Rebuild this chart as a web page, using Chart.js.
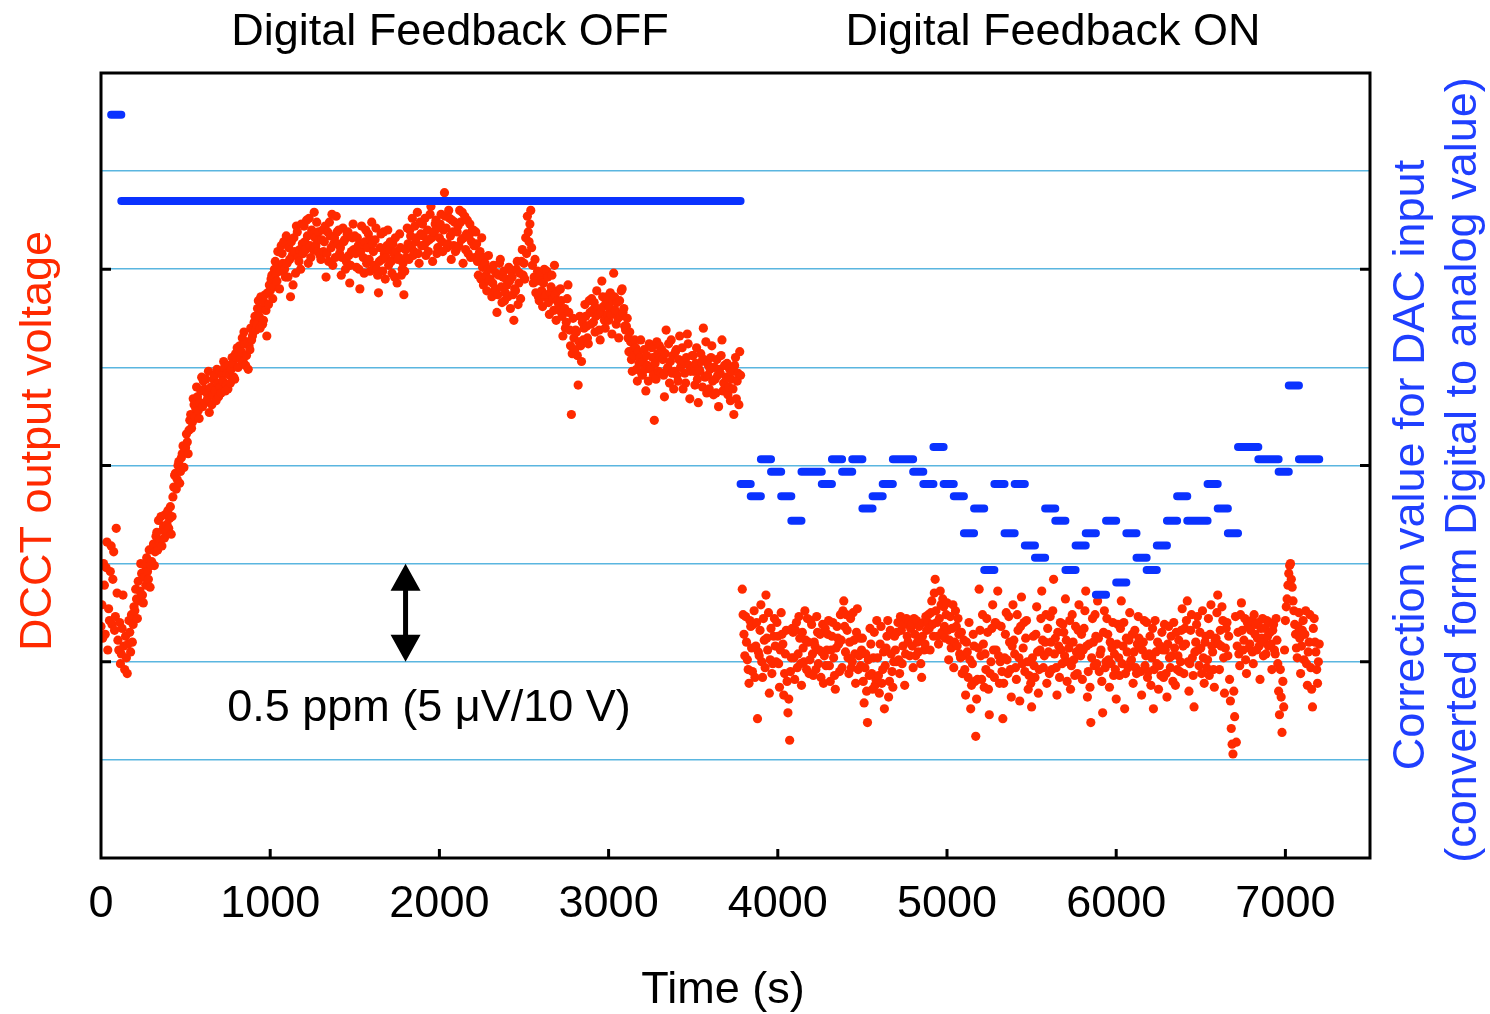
<!DOCTYPE html>
<html>
<head>
<meta charset="utf-8">
<script src="https://cdn.jsdelivr.net/npm/chart.js@4.4.1/dist/chart.umd.min.js"></script>
<style>
  body { margin: 0; background: #fff; }
</style>
</head>
<body>
<canvas id="grafico" width="1490" height="1014"></canvas>
<script>
// DCCT output voltage (µV offset, 5 µV = 0.5 ppm per division), sampled every 5 s
const sampleStep = 5;

// feedback OFF: t = 0 ... 3780 s
const offStart = 0;
const dcctOff = [
  11.8, 12.9, 11.2, 15.0, 13.9, 11.4, 14.8, 16.1, 10.6, 12.7, 12.1, 14.6, 15.9, 11.9, 14.2, 15.6, 11.6, 12.3, 16.8, 13.5,
  11.1, 10.6, 12.0, 9.9, 10.4, 11.7, 13.4, 10.8, 9.6, 11.3, 10.2, 9.4, 10.9, 12.1, 11.5, 10.5, 12.4, 11.0, 11.9, 12.8,
  12.6, 13.7, 13.2, 12.2, 14.1, 13.1, 13.6, 15.0, 14.5, 13.4, 13.0, 14.3, 14.9, 13.9, 15.3, 14.6, 14.2, 15.7, 13.8, 14.9,
  15.1, 15.8, 16.0, 14.9, 15.6, 16.4, 16.6, 15.7, 17.2, 16.1, 16.2, 17.4, 15.9, 16.7, 16.9, 16.3, 17.5, 16.6, 17.0, 17.7,
  16.8, 17.3, 17.9, 16.5, 17.4, 18.4, 18.9, 19.5, 19.6, 18.8, 19.3, 20.0, 20.2, 19.1, 19.7, 20.4, 20.6, 21.0, 19.9, 20.7,
  20.9, 21.6, 21.2, 20.6, 21.8, 22.3, 22.6, 21.9, 22.2, 23.4, 23.1, 22.5, 22.9, 24.0, 23.5, 22.8, 22.4, 23.2, 23.8, 24.5,
  23.0, 24.3, 23.9, 23.2, 24.4, 23.7, 23.4, 24.8, 22.7, 23.9, 24.0, 23.1, 23.6, 24.4, 24.6, 23.8, 23.3, 24.9, 24.2, 23.5,
  24.8, 24.0, 23.7, 24.6, 24.3, 25.3, 25.0, 23.8, 24.1, 24.7, 23.9, 25.1, 24.6, 24.2, 24.9, 25.5, 25.2, 24.5, 24.4, 25.7,
  25.5, 26.0, 25.0, 25.7, 26.1, 25.4, 25.8, 26.5, 25.3, 26.8, 26.2, 25.1, 25.6, 26.3, 24.9, 26.1, 25.9, 27.0, 26.4, 26.6,
  26.8, 27.3, 27.6, 26.9, 27.2, 28.0, 28.4, 27.6, 27.0, 28.6, 28.0, 27.2, 27.4, 28.3, 28.7, 27.9, 26.6, 28.8, 28.2, 29.2,
  28.9, 29.5, 29.7, 28.5, 29.1, 30.0, 30.4, 29.8, 29.4, 30.9, 30.2, 29.0, 29.9, 31.2, 30.8, 30.3, 31.4, 30.0, 29.6, 31.7,
  30.3, 29.6, 31.1, 30.5, 28.6, 31.4, 30.7, 29.2, 31.6, 30.9, 29.8, 32.2, 31.9, 30.6, 30.4, 31.0, 30.0, 32.3, 31.3, 30.8,
  32.2, 31.4, 31.0, 32.5, 31.7, 30.3, 32.6, 31.2, 30.6, 32.0, 31.8, 31.0, 32.9, 31.6, 31.2, 32.4, 30.9, 31.9, 31.5, 30.7,
  30.5, 31.5, 32.0, 30.9, 31.4, 32.2, 29.6, 30.8, 31.9, 30.4, 32.4, 31.7, 31.1, 32.8, 30.2, 31.3, 31.6, 30.6, 32.7, 31.9,
  31.3, 32.0, 30.8, 31.1, 29.7, 30.6, 32.1, 31.4, 31.5, 30.0, 30.4, 31.8, 31.9, 30.7, 29.3, 30.2, 30.9, 31.6, 32.3, 31.0,
  31.7, 30.8, 30.1, 31.6, 31.2, 30.0, 29.0, 30.9, 32.2, 31.3, 30.6, 29.8, 31.4, 32.0, 30.3, 31.1, 31.8, 30.5, 29.9, 31.5,
  32.4, 31.3, 30.9, 30.2, 31.5, 32.1, 30.0, 29.7, 28.8, 30.4, 31.1, 31.8, 30.5, 29.9, 31.9, 30.8, 29.5, 30.6, 31.2, 32.0,
  30.2, 31.0, 31.4, 30.4, 29.8, 31.3, 30.8, 29.6, 31.6, 30.9, 29.3, 30.5, 30.6, 31.8, 31.1, 29.7, 30.0, 30.3, 28.7, 29.9,
  31.0, 30.6, 32.1, 31.3, 30.5, 32.0, 31.7, 31.1, 32.6, 30.7, 30.9, 32.2, 31.4, 31.6, 32.9, 30.8, 30.3, 32.4, 31.8, 31.2,
  32.3, 31.7, 31.2, 32.6, 30.7, 31.4, 32.0, 30.9, 31.5, 32.8, 33.2, 31.6, 30.4, 31.9, 31.9, 32.3, 32.5, 30.8, 31.1, 32.1,
  31.6, 32.3, 32.8, 31.4, 30.9, 32.0, 33.9, 32.7, 32.1, 31.1, 31.3, 33.0, 32.6, 31.7, 30.5, 32.5, 31.9, 31.2, 32.4, 30.9,
  31.0, 31.9, 32.2, 31.2, 33.0, 32.4, 31.5, 32.9, 30.3, 31.6, 32.7, 31.0, 31.8, 32.5, 30.8, 31.7, 32.3, 30.6, 31.4, 32.0,
  32.0, 31.2, 30.6, 31.9, 31.3, 30.4, 29.7, 30.8, 30.9, 29.5, 31.6, 30.1, 29.2, 30.6, 30.3, 29.7, 28.9, 30.0, 30.7, 29.4,
  29.5, 30.0, 28.6, 29.3, 30.2, 28.9, 29.0, 29.8, 27.8, 28.7, 29.7, 30.3, 30.5, 29.1, 28.3, 29.6, 29.9, 28.4, 28.8, 29.5,
  29.2, 28.6, 30.1, 29.4, 28.0, 29.9, 29.6, 28.7, 27.4, 29.0, 28.9, 30.0, 30.4, 28.2, 29.3, 29.8, 28.5, 30.4, 31.0, 29.7,
  30.3, 29.5, 31.6, 30.8, 32.7, 31.9, 31.4, 32.3, 33.0, 31.1, 30.2, 29.3, 29.6, 30.5, 28.8, 29.4, 29.9, 28.6, 28.4, 29.7,
  29.4, 28.9, 28.1, 29.3, 30.0, 28.6, 28.7, 29.9, 29.6, 28.3, 27.7, 28.8, 29.1, 29.7, 28.5, 27.9, 30.2, 28.7, 27.4, 28.4,
  28.9, 28.2, 27.9, 29.0, 28.4, 27.6, 26.6, 27.9, 28.0, 27.0, 27.3, 28.5, 29.2, 27.8, 26.9, 26.1, 22.6, 25.7, 27.5, 26.5,
  25.9, 26.9, 26.8, 25.6, 24.1, 26.3, 27.6, 26.1, 25.3, 27.3, 26.4, 27.0, 28.2, 27.6, 27.1, 26.5, 26.2, 28.4, 27.8, 27.2,
  28.5, 27.9, 27.3, 28.3, 26.8, 27.6, 28.9, 28.0, 27.7, 26.9, 26.4, 27.8, 29.4, 28.6, 28.1, 27.4, 27.0, 28.3, 28.6, 27.7,
  27.4, 28.1, 28.8, 27.7, 26.7, 28.4, 29.8, 28.6, 27.9, 27.2, 28.3, 27.5, 26.5, 28.4, 27.6, 28.9, 29.0, 27.8, 28.0, 27.1,
  26.9, 27.1, 27.5, 26.5, 25.8, 26.8, 26.3, 25.4, 24.8, 25.9, 25.6, 26.4, 26.0, 24.9, 24.3, 25.8, 25.2, 25.5, 26.4, 24.7,
  24.6, 25.3, 25.9, 24.9, 23.8, 25.6, 25.1, 24.3, 26.2, 25.0, 24.9, 26.0, 25.5, 24.6, 22.3, 25.2, 24.4, 26.3, 25.7, 24.8,
  26.1, 25.5, 24.7, 25.9, 25.4, 24.6, 23.5, 25.7, 26.9, 24.9, 25.0, 26.2, 24.2, 25.3, 26.4, 24.7, 25.6, 23.9, 24.8, 25.8,
  25.9, 24.6, 24.3, 25.4, 26.6, 25.0, 25.2, 26.0, 23.9, 25.3, 24.7, 24.2, 25.5, 26.7, 26.2, 25.1, 23.4, 24.8, 24.9, 25.6,
  25.6, 24.8, 24.1, 25.2, 26.0, 24.4, 23.2, 24.9, 24.8, 25.7, 25.3, 24.0, 27.0, 25.4, 24.5, 26.3, 23.7, 24.6, 25.1, 23.9,
  24.9, 25.5, 26.1, 24.3, 23.6, 25.0, 24.4, 23.7, 25.4, 24.6, 23.0, 24.9, 24.7, 25.6, 26.4, 23.8, 24.2, 25.1, 23.8, 24.5,
  25.2, 23.6, 24.0, 24.9, 23.3, 24.4, 24.8, 23.9, 22.6, 25.1, 25.5, 23.4, 24.3, 24.7, 23.1, 25.8, 24.6
];

// feedback ON: t = 3790 ... 7200 s
const onStart = 3790;
const dcctOn = [
  13.7, 12.4, 11.4, 10.3, 12.3, 11.0, 10.1, 9.6, 8.9, 12.1, 11.8, 10.7, 9.5, 11.9, 12.6, 9.2, 10.8, 12.0, 7.1, 10.5,
  10.3, 11.6, 12.9, 10.0, 9.2, 12.2, 11.1, 9.7, 13.4, 11.2, 10.6, 12.5, 8.4, 10.1, 11.7, 9.4, 9.9, 11.3, 12.2, 10.8,
  10.0, 12.0, 11.3, 9.9, 8.7, 10.6, 12.5, 11.4, 10.9, 8.3, 9.4, 10.4, 11.6, 9.0, 7.4, 8.1, 6.0, 9.5, 10.2, 11.7,
  11.5, 10.2, 9.1, 11.6, 12.0, 9.7, 10.4, 12.3, 11.2, 9.9, 8.8, 11.5, 10.7, 10.0, 12.6, 11.1, 9.6, 12.2, 11.0, 9.4,
  10.1, 12.1, 11.9, 10.4, 9.3, 11.0, 10.8, 9.6, 12.3, 11.5, 9.9, 10.6, 11.4, 9.2, 10.5, 11.9, 8.9, 10.3, 11.7, 9.8,
  10.6, 11.4, 12.1, 9.8, 9.0, 10.6, 11.3, 12.0, 10.2, 9.3, 8.6, 10.7, 11.8, 11.2, 10.9, 9.5, 12.4, 11.1, 9.7, 12.6,
  13.1, 11.8, 10.5, 12.4, 11.6, 10.2, 9.4, 11.0, 12.2, 9.7, 10.0, 12.5, 11.1, 10.4, 8.9, 11.5, 12.7, 9.6, 10.3, 11.2,
  9.8, 10.6, 11.2, 9.0, 7.9, 9.7, 10.4, 8.5, 6.9, 10.1, 9.3, 11.7, 10.9, 9.4, 8.6, 10.2, 11.5, 8.8, 9.1, 12.1,
  10.2, 9.3, 8.4, 10.9, 11.8, 8.9, 9.6, 10.5, 7.6, 9.8, 10.7, 11.3, 12.1, 8.2, 9.0, 11.6, 10.4, 9.5, 8.7, 10.0,
  11.3, 10.6, 10.0, 11.5, 12.0, 10.1, 9.4, 12.3, 11.6, 9.9, 10.8, 11.9, 8.8, 10.4, 12.2, 11.3, 11.0, 12.0, 10.3, 11.7,
  11.9, 10.8, 9.7, 12.2, 11.4, 10.3, 12.1, 11.0, 10.5, 11.8, 11.1, 9.9, 9.2, 11.3, 12.0, 10.6, 10.9, 12.3, 11.6, 12.0,
  12.4, 11.7, 10.6, 12.5, 13.1, 11.9, 11.3, 13.5, 14.2, 12.6, 12.0, 11.3, 10.9, 12.2, 13.6, 12.9, 11.5, 13.2, 12.8, 11.8,
  11.2, 12.4, 13.0, 11.6, 10.1, 11.1, 12.3, 10.7, 11.7, 12.9, 9.7, 11.0, 12.6, 11.8, 10.8, 12.2, 11.4, 10.4, 10.2, 11.5,
  9.4, 10.3, 11.1, 9.6, 8.3, 11.0, 10.5, 9.2, 12.0, 10.1, 7.6, 8.8, 9.9, 11.4, 10.8, 9.0, 6.2, 8.1, 9.1, 10.7,
  13.7, 11.6, 10.3, 9.1, 12.4, 10.9, 8.7, 10.4, 9.6, 12.2, 11.5, 8.6, 7.3, 9.4, 10.0, 11.7, 12.9, 10.6, 9.2, 12.0,
  10.6, 11.9, 13.6, 10.3, 8.9, 10.0, 11.8, 9.5, 7.1, 8.9, 10.2, 11.4, 12.5, 10.1, 9.4, 12.3, 11.0, 9.6, 8.2, 10.8,
  12.9, 11.1, 10.4, 9.7, 9.1, 12.4, 11.6, 10.2, 8.0, 11.8, 13.3, 9.9, 10.7, 12.0, 9.5, 11.2, 12.1, 10.0, 8.6, 9.3,
  10.0, 8.9, 7.7, 10.2, 11.3, 9.8, 9.2, 11.4, 12.8, 10.5, 8.4, 9.6, 10.6, 12.2, 13.6, 11.1, 9.7, 10.3, 11.0, 12.4,
  8.9, 11.7, 10.5, 9.4, 12.3, 11.0, 9.6, 12.6, 14.2, 10.4, 11.2, 9.7, 8.3, 11.5, 10.8, 9.2, 12.0, 10.6, 9.9, 11.9,
  11.5, 10.3, 13.2, 11.1, 9.0, 10.0, 10.7, 12.1, 8.6, 9.8, 12.4, 11.0, 10.1, 9.3, 11.8, 10.5, 9.4, 11.6, 12.9, 10.7,
  10.3, 11.4, 9.1, 10.6, 11.7, 12.6, 13.6, 10.8, 8.2, 9.5, 10.9, 8.7, 6.9, 10.2, 12.2, 11.0, 9.8, 12.4, 11.3, 9.9,
  13.1, 11.2, 9.5, 10.4, 10.6, 9.0, 7.4, 11.5, 12.6, 9.7, 10.0, 12.2, 11.4, 10.1, 8.7, 11.0, 9.9, 10.7, 12.0, 9.3,
  10.4, 9.6, 8.1, 10.9, 11.9, 10.2, 9.3, 11.7, 13.1, 9.9, 10.8, 12.0, 7.6, 9.4, 11.2, 10.5, 9.7, 11.1, 12.5, 10.0,
  10.1, 11.4, 8.9, 10.5, 11.6, 9.7, 9.4, 10.9, 12.3, 11.2, 10.7, 9.5, 8.3, 10.6, 11.0, 12.1, 9.8, 10.3, 12.0, 9.2,
  9.5, 10.4, 11.3, 8.8, 10.2, 11.7, 7.6, 9.6, 12.1, 10.5, 9.9, 11.0, 8.6, 9.8, 10.8, 9.3, 11.5, 10.6, 9.2, 11.9,
  10.6, 9.4, 8.2, 10.9, 11.8, 10.2, 9.7, 11.3, 10.3, 9.0, 12.0, 10.7, 8.8, 11.5, 9.6, 10.3, 11.1, 9.5, 10.0, 11.6,
  12.7, 10.8, 9.4, 11.7, 10.9, 12.1, 13.1, 10.0, 8.5, 9.9, 11.6, 12.4, 10.2, 9.3, 7.7, 10.5, 11.0, 11.9, 12.3, 10.6,
  9.8, 11.5, 10.7, 9.4, 12.6, 10.2, 8.9, 11.0, 11.3, 9.7, 10.1, 12.2, 9.3, 11.4, 12.9, 10.8, 10.5, 9.6, 8.7, 11.1,
  11.2, 12.5, 13.4, 10.9, 9.6, 11.6, 10.8, 12.8, 12.1, 10.2, 8.4, 10.7, 11.7, 12.0, 10.3, 11.3, 9.1, 8.0, 6.6, 5.8,
  5.3, 8.5, 7.2, 12.3, 5.9, 10.8, 11.5, 10.4, 9.8, 12.4, 13.0, 11.6, 10.6, 11.1, 12.2, 10.1, 9.4, 12.0, 11.8, 10.7,
  10.9, 11.6, 12.1, 10.5, 9.9, 12.4, 11.4, 11.9, 10.6, 11.2, 12.0, 10.8, 9.1, 11.7, 11.2, 12.2, 10.3, 11.0, 11.7, 10.4,
  12.1, 11.3, 10.8, 12.0, 11.5, 10.9, 9.6, 11.6, 11.9, 10.6, 10.4, 12.2, 11.1, 9.9, 8.5, 7.3, 9.6, 8.2, 6.4, 9.0,
  7.7, 10.6, 12.1, 12.8, 13.2, 13.9, 14.5, 14.9, 15.0, 14.2, 13.8, 13.1, 12.6, 11.9, 11.4, 10.7, 10.2, 11.8, 12.5, 11.2,
  9.4, 10.8, 11.6, 12.1, 10.1, 11.4, 12.6, 9.9, 8.8, 10.5, 11.0, 12.4, 9.7, 8.6, 7.7, 11.7, 12.2, 11.0, 10.5, 9.6,
  8.9, 10.0, 10.9
];

// DAC correction value (LSB codes), one value per 60 s from t = 60 s
const dacStart = 60;
const dacStep = 60;
const dacCode = [
  37,
  30, 30, 30, 30, 30, 30, 30, 30, 30, 30,
  30, 30, 30, 30, 30, 30, 30, 30, 30, 30,
  30, 30, 30, 30, 30, 30, 30, 30, 30, 30,
  30, 30, 30, 30, 30, 30, 30, 30, 30, 30,
  30, 30, 30, 30, 30, 30, 30, 30, 30, 30,
  30, 30, 30, 30, 30, 30, 30, 30, 30, 30,
  30,
  7, 6, 9, 8, 6, 4, 8, 8, 7, 9,
  8, 9, 5, 6, 7, 9, 9, 8, 7, 10,
  7, 6, 3, 5, 0, 7, 3, 7, 2, 1,
  5, 4, 0, 2, 3, -2, 4, -1, 3, 1,
  0, 2, 4, 6, 4, 4, 7, 5, 3, 10,
  10, 9, 9, 8, 15, 9, 9
];

const xTickLabels = [0, 1000, 2000, 3000, 4000, 5000, 6000, 7000];
const yTickMarks = [10, 20, 30];

// pontos para o gráfico
const dcctPoints = [];
dcctOff.forEach((v, i) => dcctPoints.push({x: offStart + i * sampleStep, y: v}));
dcctOn.forEach((v, i) => dcctPoints.push({x: onStart + i * sampleStep, y: v}));

// cada valor de correção vira um traço horizontal de 60 s
const dacPoints = [];
dacCode.forEach((c, i) => {
  const t = dacStart + i * dacStep;
  dacPoints.push({x: t, y: c}, {x: t + dacStep, y: c}, {x: t + dacStep, y: null});
});

const FONT = "'Liberation Sans', Arial, Helvetica, sans-serif";
const RED = '#ff2a00';
const BLUE = '#0a32ff';

const decor = {
  id: 'decor',
  afterDraw(chart) {
    const {ctx, chartArea: a, scales} = chart;
    const x = scales.x, y = scales.y;
    ctx.save();

    // moldura e marcas para dentro
    ctx.strokeStyle = '#000';
    ctx.lineWidth = 3;
    ctx.strokeRect(a.left, a.top, a.right - a.left, a.bottom - a.top);
    ctx.beginPath();
    xTickLabels.slice(1).forEach(v => {
      const px = x.getPixelForValue(v);
      ctx.moveTo(px, a.bottom);
      ctx.lineTo(px, a.bottom - 9);
    });
    yTickMarks.forEach(v => {
      const py = y.getPixelForValue(v);
      ctx.moveTo(a.left, py);
      ctx.lineTo(a.left + 10, py);
      ctx.moveTo(a.right, py);
      ctx.lineTo(a.right - 10, py);
    });
    ctx.stroke();

    // seta de 0.5 ppm
    const ax = x.getPixelForValue(1800);
    const yTop = y.getPixelForValue(15);
    const yBot = y.getPixelForValue(10);
    ctx.fillStyle = '#000';
    ctx.lineWidth = 5;
    ctx.beginPath();
    ctx.moveTo(ax, yTop + 20);
    ctx.lineTo(ax, yBot - 20);
    ctx.stroke();
    ctx.beginPath();
    ctx.moveTo(ax, yTop);
    ctx.lineTo(ax - 15, yTop + 27);
    ctx.lineTo(ax + 15, yTop + 27);
    ctx.closePath();
    ctx.moveTo(ax, yBot);
    ctx.lineTo(ax - 15, yBot - 27);
    ctx.lineTo(ax + 15, yBot - 27);
    ctx.closePath();
    ctx.fill();

    // textos
    ctx.font = '45px ' + FONT;
    ctx.textAlign = 'center';
    ctx.textBaseline = 'alphabetic';
    ctx.fillText('0.5 ppm (5 \u03bcV/10 V)', 429, 721);
    ctx.fillText('Digital Feedback OFF', 450, 45);
    ctx.fillText('Digital Feedback ON', 1053, 45);
    ctx.fillText('Time (s)', 723, 1003);

    ctx.save();
    ctx.translate(51, 441);
    ctx.rotate(-Math.PI / 2);
    ctx.fillStyle = RED;
    ctx.fillText('DCCT output voltage', 0, 0);
    ctx.restore();

    ctx.fillStyle = '#1f3fff';
    ctx.save();
    ctx.translate(1424, 465);
    ctx.rotate(-Math.PI / 2);
    ctx.fillText('Correction value for DAC input', 0, 0);
    ctx.restore();
    ctx.save();
    ctx.translate(1476, 470);
    ctx.rotate(-Math.PI / 2);
    ctx.fillText('(converted form Digital to analog value)', 0, 0);
    ctx.restore();

    ctx.restore();
  }
};

new Chart(document.getElementById('grafico'), {
  type: 'scatter',
  data: {
    datasets: [
      {
        label: 'DAC correction',
        data: dacPoints,
        yAxisID: 'y2',
        showLine: true,
        spanGaps: false,
        borderColor: BLUE,
        borderWidth: 8,
        borderCapStyle: 'round',
        pointRadius: 0,
        order: 0
      },
      {
        label: 'DCCT output voltage',
        data: dcctPoints,
        yAxisID: 'y',
        backgroundColor: RED,
        borderWidth: 0,
        pointRadius: 4.6,
        order: 1
      }
    ]
  },
  options: {
    responsive: false,
    animation: false,
    layout: { padding: { top: 73, left: 0, right: 0, bottom: 0 } },
    plugins: { legend: { display: false }, tooltip: { enabled: false } },
    scales: {
      x: {
        type: 'linear',
        min: 0,
        max: 7500,
        grid: { display: false, drawTicks: false },
        border: { display: false },
        ticks: {
          stepSize: 1000,
          padding: 20,
          color: '#000',
          font: { family: FONT, size: 45 },
          callback: v => String(v)
        },
        afterBuildTicks: s => { s.ticks = xTickLabels.map(v => ({value: v})); },
        afterFit: s => { s.height = 156; }
      },
      y: {
        position: 'left',
        min: 0,
        max: 40,
        ticks: { display: false, stepSize: 5 },
        grid: { color: '#5ab6e0', lineWidth: 1.6, drawTicks: false },
        border: { display: false },
        afterFit: s => { s.width = 101; }
      },
      y2: {
        position: 'right',
        min: -23.4,
        max: 40.4,
        ticks: { display: false },
        grid: { display: false, drawTicks: false },
        border: { display: false },
        afterFit: s => { s.width = 120; }
      }
    }
  },
  plugins: [decor]
});
</script>
</body>
</html>
